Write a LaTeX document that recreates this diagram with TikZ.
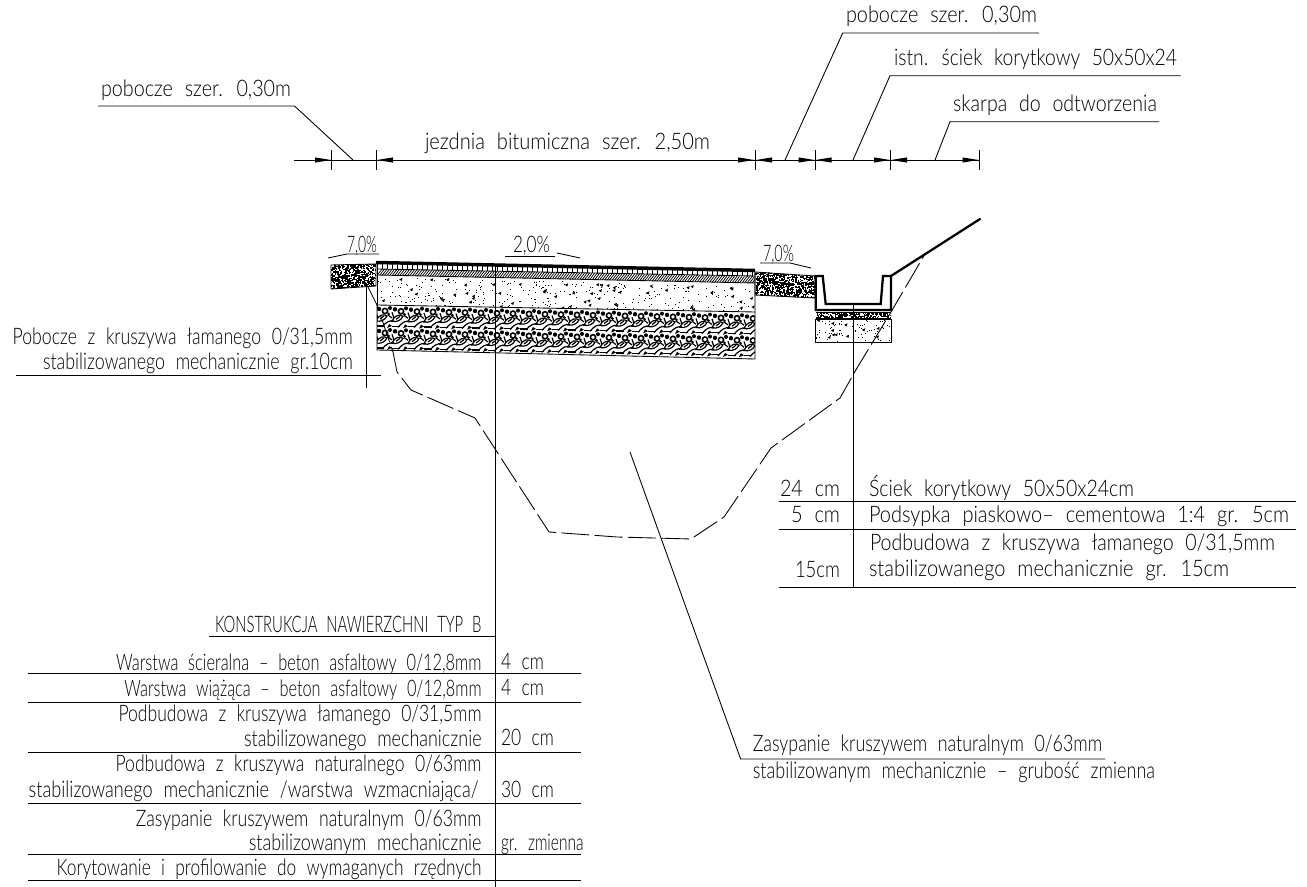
\documentclass[tikz,border=0pt]{standalone}
\usepackage{fontspec}
\usepackage{graphicx}
\setmainfont{Lato Light}[WordSpace=2.2]
\usetikzlibrary{calc}
\tikzset{
  thin line/.style={line width=0.65pt,black},
  thick line/.style={line width=1.7pt,black,line join=miter},
  dash line/.style={line width=0.65pt,black,dash pattern=on 21pt off 4pt},
  lab/.style={inner sep=0pt,outer sep=0pt,font=\fontsize{15}{15}\selectfont,black}
}
% name, x left, x right, baseline, text
\newcommand\lab[5]{%
  \pgfmathsetlengthmacro\labw{(#3-#2)*0.75pt}%
  \node[lab,anchor=base west] (#1) at (#2,#4) {\resizebox{\labw}{1.14\height}{#5}};}
\newcommand\arrR[1]{\fill (#1,160) -- ++(-16,-2.6) -- ++(0,5.2) -- cycle;}
\newcommand\arrL[1]{\fill (#1,160) -- ++(16,-2.6) -- ++(0,5.2) -- cycle;}
\newcommand\tick[1]{\draw[thin line] (#1,150) -- (#1,170);}
\newcommand\speck[5]{% x0 w y0 h n
  \foreach \i in {1,...,#5}{%
    \pgfmathsetmacro\px{#1+rnd*#2}\pgfmathsetmacro\py{#3+rnd*#4}%
    \fill (\px,\py) rectangle ++(1.4,1.4);}}
\newcommand\stip[6]{% x0 w y0 h ndots ntri
  \foreach \i in {1,...,#5}{%
    \pgfmathsetmacro\px{#1+rnd*#2}\pgfmathsetmacro\py{#3+rnd*#4+0.021*(\px-376)}%
    \fill (\px,\py) rectangle ++(0.8,0.8);}
  \foreach \i in {1,...,#6}{%
    \pgfmathsetmacro\px{#1+rnd*#2}\pgfmathsetmacro\py{#3+rnd*#4+0.021*(\px-376)}%
    \fill (\px,\py) -- ++(3.2,-1.6) -- ++(-0.6,3.2) -- cycle;}}
\begin{document}
\begin{tikzpicture}[x=0.75pt,y=-0.75pt]
\useasboundingbox (0,0) rectangle (1307,887);
\fill[white] (0,0) rectangle (1307,887);
\pgfmathsetseed{7}

% ---------- road layers ----------
\begin{scope}
  \clip (377,264) -- (755,271) -- (755,283) -- (377,275) -- cycle;
  \foreach \x in {377,382,...,755}{
    \pgfmathsetmacro\yy{264+0.0205*(\x-376)}
    \draw[line width=0.7pt] (\x,\yy) -- (\x,\yy+5);
    \draw[line width=0.55pt] (\x,\yy+11.5) -- (\x+5,\yy+5);
    \draw[line width=0.55pt] (\x+2.5,\yy+11.5) -- (\x+7.5,\yy+5);
  }
\end{scope}
\draw[thin line] (377,269) -- (755,276);
\draw[thin line] (377,275) -- (755,283);
\draw[thin line] (377,305) -- (755,312);
\begin{scope}
  \clip (377,275) -- (755,283) -- (755,312) -- (377,305) -- cycle;
  \stip{378}{376}{277}{27}{280}{55}
\end{scope}
% rock layer
\begin{scope}
  \clip (377,305) -- (755,312) -- (755,359) -- (377,350) -- cycle;
  \foreach \x in {376,392,...,752}{
    \foreach \r in {0,1}{
      \pgfmathsetmacro\yy{306+0.0205*(\x-376)+\r*22}
      \begin{scope}[shift={(\x,\yy)}]
        \draw[line width=1.2pt] (9,5) circle[radius=2.6];
        \fill (14,2) circle[radius=2];
        \fill (3,3) circle[radius=2.2];
        \fill (12.5,8) circle[radius=1.5];
        \draw[line width=0.9pt] (0,15) .. controls (3,8) and (8,8) .. (11,10) .. controls (9,14) and (5,16) .. cycle;
        \draw[line width=0.9pt] (4,13) -- (8,10);
        \draw[line width=0.9pt] (6,21) .. controls (10,16) and (14,14) .. (18,15);
        \draw[line width=0.9pt] (12,9) -- (16,12);
        \draw[line width=0.9pt] (0,20) -- (8,20);
        \draw[line width=0.9pt] (0,6) -- (2,12);
        \fill (13,18) -- (16,20) -- (11,22) -- cycle;
      \end{scope}
    }
  }
\end{scope}
\draw[thin line] (377,305) -- (377,350) -- (755,359) -- (755,272);
\draw[thin line] (377,264) -- (377,305);
\draw[line width=2.6pt] (376,262.5) -- (755,270.5);

% ---------- shoulders ----------
\begin{scope}
  \clip (331,265) -- (376,264) -- (376,286) -- (331,289) -- cycle;
  \speck{331}{45}{263}{27}{620}
\end{scope}
\draw[thin line] (331,265) -- (376,264) -- (376,286) -- (331,289) -- cycle;
\begin{scope}
  \clip (755,272) -- (815,276) -- (815,298) -- (755,295) -- cycle;
  \speck{755}{60}{271}{28}{850}
\end{scope}
\draw[thin line] (755,272) -- (815,276) -- (815,298) -- (755,295) -- cycle;

% ---------- channel ----------
\begin{scope}
  \clip (816,312.5) rectangle (891,319);
  \speck{816}{75}{312}{7}{240}
\end{scope}
\draw[thin line] (816,312.5) -- (891,312.5);
\draw[line width=1pt] (816,319) -- (891,319);
\begin{scope}
  \clip (816,319) rectangle (891,342);
  \pgfmathsetseed{11}
  \foreach \i in {1,...,70}{
    \pgfmathsetmacro\px{816+rnd*75}\pgfmathsetmacro\py{320+rnd*21}
    \fill (\px,\py) rectangle ++(0.8,0.8);}
  \foreach \i in {1,...,11}{
    \pgfmathsetmacro\px{816+rnd*75}\pgfmathsetmacro\py{320+rnd*21}
    \fill (\px,\py) -- ++(3.2,-1.6) -- ++(-0.6,3.2) -- cycle;}
\end{scope}
\draw[thin line] (815.7,319) rectangle (891,342);
\draw[thick line] (815.7,276) -- (822.7,276) -- (825.7,304) -- (880.7,304) -- (883,276) -- (891,276) -- (891,310) -- (815.7,310) -- cycle;
\draw[thick line,line cap=round] (891,276) -- (980,219);

% ---------- dashed excavation ----------
\draw[dash line] (367,285) -- (377,305) -- (393,352) -- (397,372) -- (411,390) -- (475,418) -- (549,532) -- (617,537) -- (691,539) -- (724,517) -- (771,448) -- (840,398) -- (857,368) -- (891,312) -- (925,254);

% ---------- dimension line ----------
\draw[thin line] (294,160) -- (979,160);
\tick{331}\tick{376.5}\tick{755}\tick{815}\tick{890.5}\tick{979}
\arrR{331}\arrL{377}\arrR{754}\arrL{756}\arrR{814.5}\arrL{815.5}\arrR{890}\arrL{891}\arrR{978.5}
\draw[thin line] (98,106) -- (294.5,106) -- (353,160);
\draw[thin line] (1039,33) -- (842.7,33) -- (785,160);
\draw[thin line] (1180.7,75.7) -- (890,75.7) -- (853,160);
\draw[thin line] (1159,121.7) -- (950,121.7) -- (935,160);

\lab{t1}{101}{291}{97}{pobocze szer. 0,30m}
\lab{t2}{425}{710}{150}{jezdnia bitumiczna szer. 2,50m}
\lab{t3}{846}{1037}{23}{pobocze szer. 0,30m}
\lab{t4}{894}{1177}{66}{istn. ściek korytkowy 50x50x24}
\lab{t5}{953}{1157}{112}{skarpa do odtworzenia}

% ---------- slopes ----------
\draw[thin line] (328,258) -- (347,254) -- (379,254);
\draw[thin line] (505,256) -- (555,256);
\draw[thin line] (557,253) -- (580,258);
\draw[thin line] (760,263) -- (790,263) -- (811,268);
\lab{p1}{347}{377}{252.5}{7,0\%}
\lab{p2}{513}{550}{253}{2,0\%}
\lab{p3}{763}{794}{262}{7,0\%}

% ---------- left note ----------
\lab{n1}{12.7}{352.7}{345}{Pobocze z kruszywa łamanego 0/31,5mm}
\lab{n2}{43}{352.7}{370}{stabilizowanego mechanicznie gr.10cm}
\draw[thin line] (16,375.7) -- (380.7,375.7);
\draw[thin line] (366.7,286) -- (366.7,388);

% ---------- main table ----------
\draw[thin line] (495.5,264) -- (495.5,887);
\draw[thin line] (208.6,636) -- (495.5,636);
\foreach \yy in {673,702,752,803,854,880}{\draw[thin line] (28,\yy) -- (581,\yy);}
\lab{a0}{215}{481.5}{633}{KONSTRUKCJA NAWIERZCHNI TYP B}
\lab{a1}{116}{481.5}{670.5}{Warstwa ścieralna -- beton asfaltowy 0/12,8mm}
\lab{a2}{124.4}{481.5}{696}{Warstwa wiążąca -- beton asfaltowy 0/12,8mm}
\lab{a3}{118.6}{481.5}{721.7}{Podbudowa z kruszywa łamanego 0/31,5mm}
\lab{a4}{244}{481.5}{746}{stabilizowanego mechanicznie}
\lab{a5}{115.6}{481.5}{771.7}{Podbudowa z kruszywa naturalnego 0/63mm}
\lab{a6}{28.7}{478.5}{797.7}{stabilizowanego mechanicznie /warstwa wzmacniająca/}
\lab{a7}{135.9}{481.5}{826}{Zasypanie kruszywem naturalnym 0/63mm}
\lab{a8}{248.8}{481.5}{850}{stabilizowanym mechanicznie}
\lab{a9}{56.6}{481.5}{875}{Korytowanie i profilowanie do wymaganych rzędnych}
\lab{b1}{501}{544}{669}{4 cm}
\lab{b2}{501}{544}{695}{4 cm}
\lab{b3}{501}{554}{745}{20 cm}
\lab{b4}{501}{554}{797}{30 cm}
\lab{b5}{501}{583.6}{850}{gr. zmienna}

% ---------- right table ----------
\draw[thin line] (853,305) -- (853,587.5);
\foreach \yy in {501,529,587.5}{\draw[thin line] (778.6,\yy) -- (1295.7,\yy);}
\lab{c1}{780}{840}{496.7}{24 cm}
\lab{c2}{791}{840}{523}{5 cm}
\lab{c3}{795}{840}{577}{15cm}
\lab{d1}{869}{1134}{496.7}{Ściek korytkowy 50x50x24cm}
\lab{d2}{869}{1289}{523}{Podsypka piaskowo-- cementowa 1:4 gr. 5cm}
\lab{d3}{870}{1275}{551}{Podbudowa z kruszywa łamanego 0/31,5mm}
\lab{d4}{869}{1229}{577}{stabilizowanego mechanicznie gr. 15cm}

% ---------- fill note ----------
\draw[thin line] (630,452) -- (740.6,759) -- (1105,759);
\lab{e1}{752.8}{1102}{751.7}{Zasypanie kruszywem naturalnym 0/63mm}
\lab{e2}{752.8}{1155}{778}{stabilizowanym mechanicznie -- grubość zmienna}
\end{tikzpicture}
\end{document}
